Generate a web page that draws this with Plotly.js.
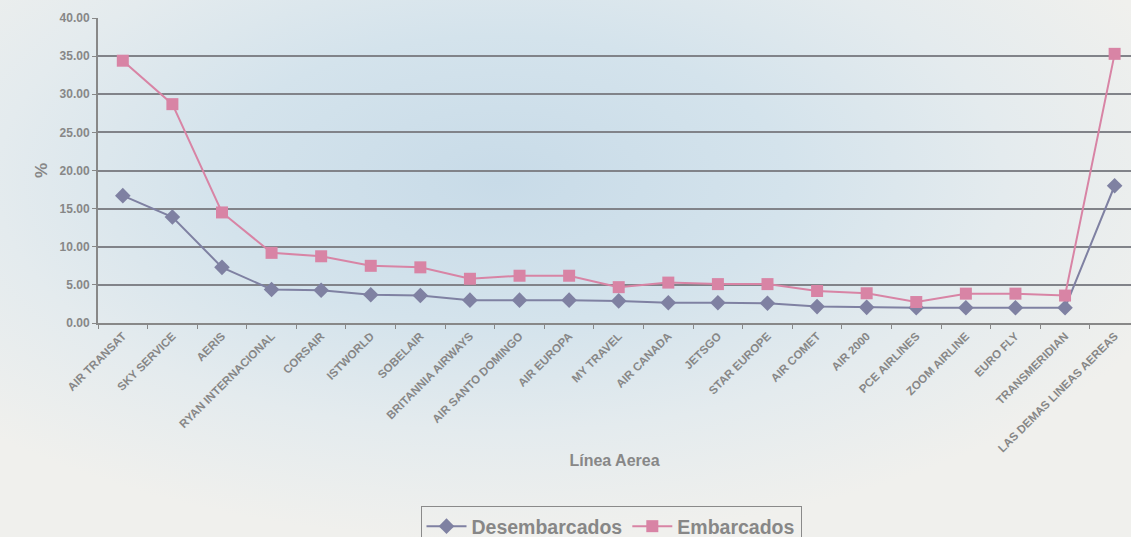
<!DOCTYPE html>
<html>
<head>
<meta charset="utf-8">
<script src="https://cdn.plot.ly/plotly-3.0.1.min.js"></script>
<style>
html, body { margin:0; padding:0; overflow:hidden; }
body { width:1131px; height:537px; background:#efefec; }
#chart { width:1131px; height:537px;
  background: radial-gradient(ellipse 720px 360px at 500px 180px, #c8dbe8 0%, #d4e3ec 40%, #e4ebee 70%, #f0f0ed 100%); }
</style>
</head>
<body>
<div id="chart"></div>
<script>
const airlines = ["AIR TRANSAT","SKY SERVICE","AERIS","RYAN INTERNACIONAL","CORSAIR","ISTWORLD","SOBELAIR","BRITANNIA AIRWAYS","AIR SANTO DOMINGO","AIR EUROPA","MY TRAVEL","AIR CANADA","JETSGO","STAR EUROPE","AIR COMET","AIR 2000","PCE AIRLINES","ZOOM AIRLINE","EURO FLY","TRANSMERIDIAN","LAS DEMAS LINEAS AEREAS"];
const desembarcados = [16.7, 13.9, 7.3, 4.4, 4.3, 3.7, 3.6, 3.0, 3.0, 3.0, 2.9, 2.65, 2.65, 2.6, 2.15, 2.05, 2.0, 2.0, 2.0, 2.0, 18.0];
const embarcados = [34.4, 28.7, 14.5, 9.2, 8.75, 7.5, 7.3, 5.8, 6.2, 6.2, 4.7, 5.3, 5.1, 5.1, 4.2, 3.9, 2.75, 3.85, 3.85, 3.6, 35.3];
const yTicks = [0,5,10,15,20,25,30,35,40];

const grey = "#878787";
const traces = [
  {x: airlines, y: desembarcados, name: "Desembarcados", type: "scatter", mode: "lines+markers",
   line: {color: "#7f81a2", width: 2}, marker: {symbol: "diamond", size: 12, color: "#7f81a2"}},
  {x: airlines, y: embarcados, name: "Embarcados", type: "scatter", mode: "lines+markers",
   line: {color: "#d884a5", width: 2}, marker: {symbol: "square", size: 12, color: "#d884a5"}}
];
const layout = {
  width: 1131, height: 537,
  paper_bgcolor: "rgba(0,0,0,0)", plot_bgcolor: "rgba(0,0,0,0)",
  margin: {l: 98, r: 0, t: 18, b: 214},
  showlegend: true,
  font: {family: "Liberation Sans, Arial, sans-serif", color: grey},
  xaxis: {
    type: "category", range: [-0.5, 20.33], tickangle: -45,
    tickfont: {size: 11.5, family: "Liberation Sans, Arial, sans-serif", color: grey, weight: 700},
    ticks: "outside", ticklen: 4, tickcolor: "#888", tickson: "boundaries",
    showline: true, linecolor: "#888", linewidth: 2, showgrid: false, zeroline: false,
    automargin: false,
    title: {text: "<b>Línea Aerea</b>", font: {size: 16, color: grey}, standoff: 1}
  },
  yaxis: {
    range: [0, 40], tickvals: yTicks, tickformat: ".2f",
    tickfont: {size: 12, color: grey, weight: 700},
    ticks: "outside", ticklen: 4, tickcolor: "#888",
    showline: true, linecolor: "#888", linewidth: 2,
    showgrid: true, gridcolor: "#818389", gridwidth: 2, zeroline: false,
    automargin: false,
    title: {text: "<b>%</b>", font: {size: 17, color: grey}, standoff: 8}
  },
  legend: {
    orientation: "h", xref: "container", yref: "container",
    x: 611/1131, xanchor: "center", y: 1 - 506/537, yanchor: "top",
    bgcolor: "rgba(0,0,0,0)", bordercolor: "#8a8a8a", borderwidth: 1,
    font: {size: 19.5, color: grey, weight: 700}, itemwidth: 40
  }
};
Plotly.newPlot("chart", traces, layout, {displayModeBar: false, staticPlot: true});
</script>
</body>
</html>
